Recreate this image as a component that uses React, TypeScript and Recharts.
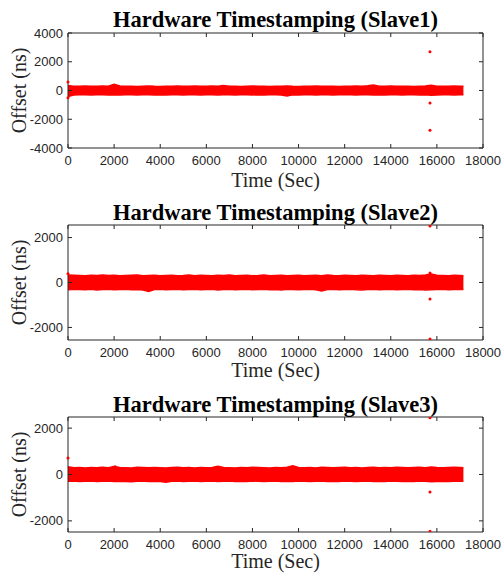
import React from 'react';
import { ComposedChart, Area, Scatter, XAxis, YAxis } from 'recharts';

// sample times of the band envelope (Sec)
const timeSec = [
  0, 250, 500, 750, 1000, 1250, 1500, 1750, 2000, 2250,
  2500, 2750, 3000, 3250, 3500, 3750, 4000, 4250, 4500, 4750,
  5000, 5250, 5500, 5750, 6000, 6250, 6500, 6750, 7000, 7250,
  7500, 7750, 8000, 8250, 8500, 8750, 9000, 9250, 9500, 9750,
  10000, 10250, 10500, 10750, 11000, 11250, 11500, 11750, 12000, 12250,
  12500, 12750, 13000, 13250, 13500, 13750, 14000, 14250, 14500, 14750,
  15000, 15250, 15500, 15750, 16000, 16250, 16500, 16750, 17000, 17150,
];

// upper / lower edge of the dense offset band (ns)
const slave1High = [
  340, 300, 290, 310, 300, 290, 320, 300, 430, 310,
  290, 300, 280, 300, 310, 290, 280, 300, 290, 310,
  300, 290, 310, 290, 300, 320, 300, 340, 300, 290,
  280, 300, 310, 290, 300, 280, 300, 290, 310, 290,
  280, 300, 290, 310, 300, 290, 300, 280, 300, 290,
  310, 300, 330, 390, 300, 290, 310, 300, 290, 300,
  280, 300, 320, 360, 300, 290, 300, 310, 290, 290,
];
const slave1Low = [
  -420, -310, -300, -290, -310, -300, -290, -310, -300, -320,
  -300, -290, -310, -300, -290, -310, -300, -320, -300, -290,
  -310, -300, -290, -320, -300, -290, -310, -300, -290, -310,
  -300, -290, -310, -300, -320, -300, -290, -310, -390, -300,
  -310, -290, -300, -310, -300, -290, -310, -300, -290, -300,
  -310, -300, -290, -310, -300, -320, -300, -290, -310, -300,
  -290, -310, -300, -330, -310, -300, -290, -310, -300, -300,
];
const slave2High = [
  330, 320, 310, 300, 320, 310, 330, 310, 320, 300,
  310, 320, 330, 300, 310, 320, 300, 310, 320, 300,
  310, 330, 300, 320, 310, 300, 320, 310, 330, 300,
  310, 320, 300, 310, 330, 300, 310, 320, 300, 310,
  320, 300, 310, 320, 300, 330, 310, 300, 320, 310,
  300, 320, 310, 300, 320, 310, 300, 320, 310, 300,
  320, 310, 330, 380, 320, 310, 300, 320, 310, 300,
];
const slave2Low = [
  -320, -300, -310, -320, -300, -330, -310, -300, -320, -310,
  -300, -320, -310, -330, -400, -310, -300, -320, -310, -300,
  -320, -310, -300, -320, -310, -300, -330, -310, -300, -320,
  -310, -300, -320, -310, -300, -320, -310, -330, -300, -310,
  -320, -310, -300, -320, -380, -310, -300, -320, -310, -300,
  -320, -330, -310, -300, -320, -310, -300, -320, -310, -300,
  -320, -310, -330, -320, -310, -300, -320, -310, -300, -310,
];
const slave3High = [
  330, 290, 300, 280, 300, 290, 310, 290, 340, 300,
  290, 280, 310, 300, 290, 300, 290, 280, 300, 310,
  290, 300, 280, 300, 290, 300, 350, 300, 290, 280,
  300, 290, 310, 300, 290, 280, 300, 290, 310, 380,
  300, 290, 300, 280, 310, 300, 290, 300, 310, 290,
  300, 280, 300, 310, 290, 300, 290, 310, 300, 290,
  300, 310, 290, 320, 300, 290, 300, 310, 300, 290,
];
const slave3Low = [
  -290, -280, -300, -290, -280, -300, -290, -280, -300, -290,
  -300, -310, -290, -280, -300, -290, -300, -330, -290, -280,
  -300, -290, -280, -300, -290, -280, -300, -290, -280, -300,
  -290, -300, -280, -290, -300, -290, -280, -300, -290, -300,
  -280, -290, -300, -290, -280, -300, -290, -300, -280, -290,
  -300, -290, -280, -300, -290, -300, -280, -290, -300, -290,
  -300, -280, -290, -310, -300, -290, -300, -290, -280, -290,
];

// isolated points outside the band
const slave1OutTime = [0, 0, 15700, 15700, 15700];
const slave1OutValue = [600, -500, 2700, -870, -2760];
const slave2OutTime = [0, 15700, 15700, 15700, 15700];
const slave2OutValue = [390, 2520, 420, -740, -2520];
const slave3OutTime = [0, 2050, 15700, 15700, 15700];
const slave3OutValue = [714, 330, 2450, -760, -2450];

const xTicks = [0, 2000, 4000, 6000, 8000, 10000, 12000, 14000, 16000, 18000];
const slave1YTicks = [-4000, -2000, 0, 2000, 4000];
const slave23YTicks = [-2000, 0, 2000];

const AXIS = '#262626';
const RED = '#ff0000';
const SANS = '"Liberation Sans", Arial, sans-serif';
const SERIF = '"Liberation Serif", "Times New Roman", serif';
const PLOT_H = 115;

const BottomTick = (props: any) => {
  const { x, y, payload } = props;
  return (
    <g>
      <line x1={x} x2={x} y1={y} y2={y - 4} stroke={AXIS} />
      <text x={x} y={y + 12} dy="0.35em" textAnchor="middle" fill={AXIS} fontSize={13} fontFamily={SANS}>
        {payload.value}
      </text>
    </g>
  );
};

const TopTick = (props: any) => {
  const { x, y } = props;
  return <line x1={x} x2={x} y1={y} y2={y + 4} stroke={AXIS} />;
};

const LeftTick = (props: any) => {
  const { x, y, payload } = props;
  return (
    <g>
      <line x1={x} x2={x + 4} y1={y} y2={y} stroke={AXIS} />
      <text x={x - 5} y={y} dy="0.35em" textAnchor="end" fill={AXIS} fontSize={13} fontFamily={SANS}>
        {payload.value}
      </text>
    </g>
  );
};

const RightTick = (props: any) => {
  const { x, y } = props;
  return <line x1={x} x2={x - 4} y1={y} y2={y} stroke={AXIS} />;
};

const Dot = (props: any) => <circle cx={props.cx} cy={props.cy} r={1.5} fill={RED} />;
const NoDot = () => <g />;

interface PanelProps {
  top: number;
  plotTop: number;
  high: number[];
  low: number[];
  outTime: number[];
  outValue: number[];
  yDomain: [number, number];
  yTicks: number[];
}

const Panel: React.FC<PanelProps> = ({ top, plotTop, high, low, outTime, outValue, yDomain, yTicks }) => {
  const rows = timeSec.map((t, i) => ({ t, band: [low[i], high[i]] }));
  const points = outTime.map((t, i) => ({ t, v: outValue[i] }));
  return (
    <div style={{ position: 'absolute', left: 0, top }}>
      <ComposedChart width={501} height={plotTop + PLOT_H + 30} data={rows} margin={{ top: plotTop - 1, right: 17, bottom: 0, left: 0 }}>
        <XAxis dataKey="t" type="number" domain={[0, 18000]} ticks={xTicks} interval={0} height={30}
          tickSize={0} tickMargin={0} tick={<BottomTick />} axisLine={{ stroke: AXIS }} />
        <XAxis xAxisId="top" dataKey="t" orientation="top" type="number" domain={[0, 18000]} ticks={xTicks} interval={0} height={1}
          tickSize={0} tickMargin={0} tick={<TopTick />} axisLine={{ stroke: AXIS }} />
        <YAxis type="number" domain={yDomain} ticks={yTicks} interval={0} width={68} allowDataOverflow
          tickSize={0} tickMargin={0} tick={<LeftTick />} axisLine={{ stroke: AXIS }} />
        <YAxis yAxisId="right" orientation="right" type="number" domain={yDomain} ticks={yTicks} interval={0} width={1} allowDataOverflow
          tickSize={0} tickMargin={0} tick={<RightTick />} axisLine={{ stroke: AXIS }} />
        <Area dataKey="band" type="linear" stroke={RED} strokeWidth={1.5} fill={RED} fillOpacity={1}
          dot={false} activeDot={false} isAnimationActive={false} />
        <Scatter data={points} dataKey="v" shape={<Dot />} isAnimationActive={false} />
        {/* invisible copy that binds the top and right box axes */}
        <Scatter xAxisId="top" yAxisId="right" data={points} dataKey="v" shape={<NoDot />} isAnimationActive={false} />
      </ComposedChart>
    </div>
  );
};

const titles = [
  { text: 'Hardware Timestamping (Slave1)', y: 27 },
  { text: 'Hardware Timestamping (Slave2)', y: 219.5 },
  { text: 'Hardware Timestamping (Slave3)', y: 412 },
];
const yLabelCenters = [90.5, 282.5, 474.5];
const xLabelBaselines = [187, 377, 568];

const App: React.FC = () => {
  return (
    <div style={{ position: 'absolute', left: 0, top: 0, width: 501, height: 573, background: '#fff', overflow: 'hidden' }}>
      <Panel top={0} plotTop={33} high={slave1High} low={slave1Low} outTime={slave1OutTime} outValue={slave1OutValue}
        yDomain={[-4000, 4000]} yTicks={slave1YTicks} />
      <Panel top={190} plotTop={35} high={slave2High} low={slave2Low} outTime={slave2OutTime} outValue={slave2OutValue}
        yDomain={[-2560, 2560]} yTicks={slave23YTicks} />
      <Panel top={380} plotTop={37} high={slave3High} low={slave3Low} outTime={slave3OutTime} outValue={slave3OutValue}
        yDomain={[-2480, 2480]} yTicks={slave23YTicks} />
      <svg width={501} height={573} style={{ position: 'absolute', left: 0, top: 0, pointerEvents: 'none' }}>
        {titles.map((t) => (
          <text key={t.text} x={275.5} y={t.y} textAnchor="middle" fontFamily={SERIF} fontWeight="bold" fontSize={22.5} fill="#000">
            {t.text}
          </text>
        ))}
        {yLabelCenters.map((c) => (
          <text key={c} transform={`translate(26, ${c}) rotate(-90)`} textAnchor="middle" fontFamily={SERIF} fontSize={20} fill={AXIS}>
            Offset (ns)
          </text>
        ))}
        {xLabelBaselines.map((b) => (
          <text key={b} x={275.5} y={b} textAnchor="middle" fontFamily={SERIF} fontSize={20} fill={AXIS}>
            Time (Sec)
          </text>
        ))}
      </svg>
    </div>
  );
};

export default App;
